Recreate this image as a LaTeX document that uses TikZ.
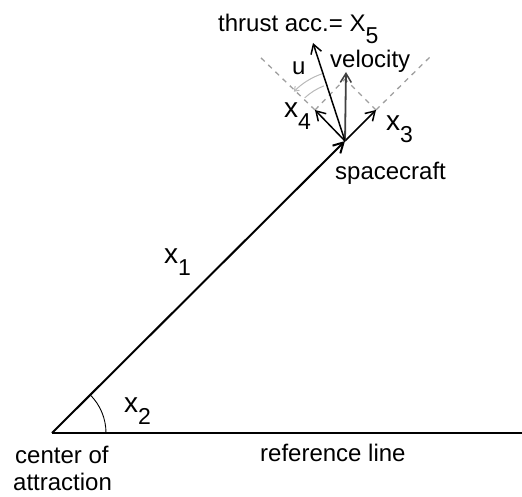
\documentclass[tikz,border=0pt]{standalone}
\usepackage{fontspec}
\setmainfont{Liberation Sans}
\usetikzlibrary{arrows.meta}
\newcommand\subs[1]{\raisebox{-12pt}{\fontsize{23}{23}\selectfont #1}}
\begin{document}
\begin{tikzpicture}[x=1pt,y=1pt,
  lbl/.style={anchor=base west,inner sep=0pt,font=\fontsize{24}{27}\selectfont},
  var/.style={anchor=base west,inner sep=0pt,font=\fontsize{28}{28}\selectfont},
  vec/.style={line width=1.5pt,-{Straight Barb[length=9pt,width=11pt,line width=1.5pt]}},
  guide/.style={gray!75,line width=1.3pt,dash pattern=on 5pt off 5pt},
  anglemark/.style={gray!55,line width=1pt}]
\useasboundingbox (0,0) rectangle (522,496);
\coordinate (O) at (52,63);
\coordinate (S) at (345,355);
\coordinate (R) at (522,63);
\coordinate (t5) at (313,453);
\coordinate (tv) at (346,424);
\coordinate (t3) at (376,386);
\coordinate (t4) at (315,386);
\coordinate (dl) at (258,441);
\coordinate (dr) at (432,441);
\coordinate (dm) at (345,417);
% reference line and radius
\draw[line width=2pt] (O) -- (R);
\draw[line width=2pt,-{Straight Barb[length=10pt,width=11pt,line width=2pt]}] (O) -- (S);
\draw[line width=0.9pt] ([shift={(0:54)}]O) arc (0:45:54);
% guides
\draw[guide] (t4) -- (dl);
\draw[guide] (t3) -- (dr);
\draw[guide] (t4) -- (dm);
\draw[guide] (t3) -- (dm);
% angle u
\draw[anglemark,-{Straight Barb[length=4pt,width=6pt]}] ([shift={(109:71)}]S) arc (109:136:71);
\draw[anglemark] ([shift={(111:59)}]S) arc (111:133:59);
% vectors at spacecraft
\draw[vec] (S) -- (t3);
\draw[vec] (S) -- (t4);
\draw[vec,black!75,line width=1.8pt] (S) -- (tv);
\draw[vec] (S) -- (t5);
% labels
\node[lbl] (lthrust) at (218,464) {thrust acc.= X\subs{5}};
\node[lbl] (lvel) at (330,428) {velocity};
\node[lbl] (lu) at (292,421) {u};
\node[var] (lx4) at (284,378) {x\subs{4}};
\node[var] (lx3) at (386,365) {x\subs{3}};
\node[lbl] (lsc) at (335,316) {spacecraft};
\node[var] (lx1) at (164,233) {x\subs{1}};
\node[var] (lx2) at (124,84) {x\subs{2}};
\node[lbl] (lref) at (260,35) {reference line};
\node[lbl] (lc1) at (15,33) {center of};
\node[lbl] (lc2) at (13,6) {attraction};
\end{tikzpicture}
\end{document}
